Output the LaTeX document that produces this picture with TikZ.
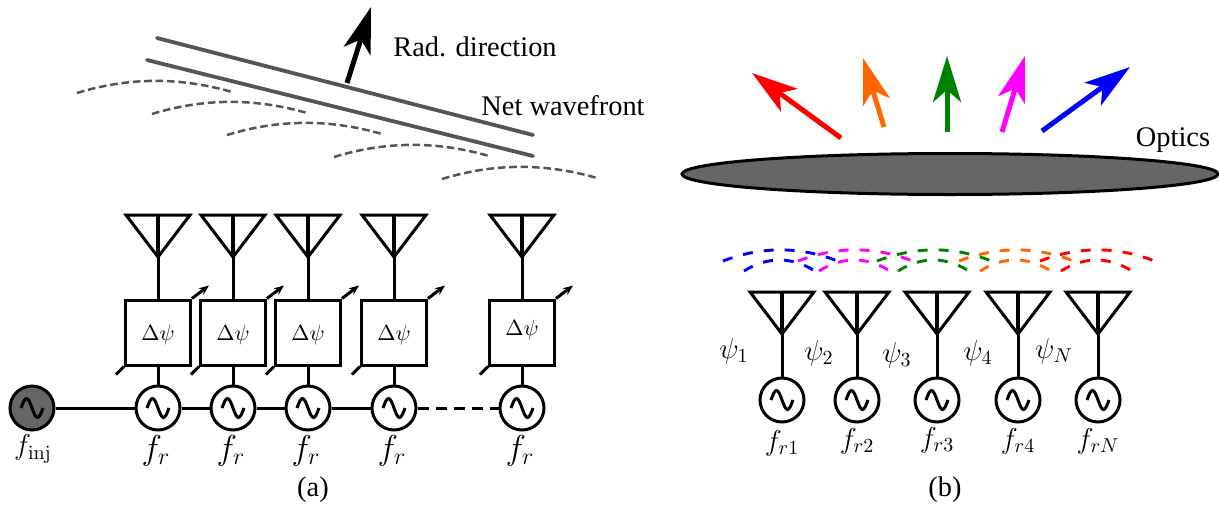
\documentclass[tikz,border=0pt]{standalone}
\usepackage[no-math]{fontspec}
\setmainfont{Liberation Serif}
\usetikzlibrary{arrows.meta,shapes.geometric}
\definecolor{wave}{RGB}{85,85,85}
\definecolor{lens}{RGB}{102,102,102}
\definecolor{tangerine}{RGB}{255,102,0}
\definecolor{forest}{RGB}{0,128,0}
\definecolor{fuchsia}{RGB}{255,0,255}
\tikzset{
  wire/.style={line width=1.5pt,draw=black},
  front/.style={line width=1.9pt,draw=wave,line cap=round},
  ripple/.style={line width=1.25pt,draw=wave,dash pattern=on 3.8pt off 1.9pt},
  beam/.style={line width=2.5pt,-{Stealth[length=23pt,width=14pt,inset=6pt]}},
  scan/.style={line width=1.45pt,draw=#1,dash pattern=on 5pt off 5.5pt},
  caption/.style={font=\fontsize{14.2}{17}\selectfont,inner sep=0pt},
  mathtag/.style={font=\fontsize{14.4}{17}\selectfont,inner sep=0pt},
  bigtag/.style={font=\fontsize{17.28}{20}\selectfont,inner sep=0pt},
  osc/.style={circle,wire,fill=#1,minimum size=22pt,inner sep=0pt,
    path picture={\draw[line width=1.5pt,shift={(path picture bounding box.center)}]
      plot[domain=-1:1,samples=25,smooth] (\x*11,{9.5*sin(\x*180)});}},
  osc/.default=white,
  phase/.style={rectangle,wire,minimum size=32.5pt,inner sep=0pt},
  pics/antenna/.style={code={
    \draw[wire] (-32,0) -- (32,0) -- (0,42) -- cycle;
    \draw[wire,line width=1.6pt] (0,0) -- (0,42);
    \coordinate (-feed) at (0,42);
  }},
}
\begin{document}
\begin{tikzpicture}[x=0.5pt,y=-0.5pt]
  \useasboundingbox (0,0) rectangle (1219,509);
  % (a) wavefront
  \coordinate (fronta1) at (157,38); \coordinate (fronta2) at (533,135);
  \coordinate (frontb1) at (147,60); \coordinate (frontb2) at (533,156);
  \draw[front] (fronta1) -- (fronta2);
  \draw[front] (frontb1) -- (frontb2);
  \foreach \x/\y in {77/80,152/101,227/122,334/144,442/166}
    \draw[ripple] (\x,\y+13) .. controls (\x+52,\y-3) and (\x+103,\y-3) .. (\x+155,\y+12);
  \coordinate (radtail) at (347,83); \coordinate (radtip) at (371,7);
  \draw[beam] (radtail) -- (radtip);
  \node[caption] (rad) at (475,47) {Rad. direction};
  \node[caption] (net) at (563,106) {Net wavefront};
  % (a) feed chain
  \node[osc=lens] (inj) at (32,408) {};
  \node[mathtag] (injlab) at (33,449) {$f_{\mathrm{inj}}$};
  \foreach \i/\x/\t in {1/158/335,2/233/335,3/308/335,4/394/335,5/522/330} {
    \pic (ant\i) at (\x,215) {antenna};
    \node[phase] (box\i) at (\x,332.5) {};
    \node[font=\fontsize{10.95}{13}\selectfont,inner sep=0pt] (dpsi\i) at (\x,\t) {$\Delta\psi$};
    \node[osc] (osc\i) at (\x,408) {};
    \node[bigtag] (fr\i) at (\x-2,451) {$f_r$};
    \draw[wire] (ant\i-feed) -- (box\i.north -| ant\i-feed);
    \draw[wire] (box\i.south -| osc\i) -- (osc\i);
    \draw[wire] (box\i.south west) -- +(-8,8);
    \draw[wire,-{Stealth[length=5pt,width=4pt]}] (box\i.north east) -- +(17,-13);
  }
  \draw[wire] (inj) -- (osc1);
  \draw[wire] (osc1) -- (osc2);
  \draw[wire] (osc2) -- (osc3);
  \draw[wire] (osc3) -- (osc4);
  \draw[wire,dash pattern=on 5.5pt off 3.5pt] (osc4) -- (osc5);
  \node[caption] (capa) at (313,490) {(a)};
  % (b) optics and beams
  \node[ellipse,wire,fill=lens,minimum width=268pt,minimum height=20.5pt,inner sep=0pt] (lens) at (950,174) {};
  \node[caption] (opt) at (1173,140) {Optics};
  \foreach \col/\xa/\ya/\xb/\yb/\n in {red/841/138/752/73/1,tangerine/884/127/863/58/2,forest/947/132/947/56/3,fuchsia/1002/132/1025/56/4,blue/1042/131/1130/67/5} {
    \coordinate (tail\n) at (\xa,\ya);
    \coordinate (tip\n) at (\xb,\yb);
    \draw[beam,\col] (tail\n) -- (tip\n);
  }
  % (b) scanned arcs
  \foreach \col/\x in {blue/723,fuchsia/798,forest/877,tangerine/959,red/1040} {
    \draw[scan=\col] (\x,261) .. controls (\x+39,246) and (\x+78,246) .. (\x+117,262);
    \draw[scan=\col] (\x+21,271) .. controls (\x+45,256) and (\x+70,256) .. (\x+95,273);
  }
  % (b) array
  \foreach \i/\x/\p/\q/\sub/\fy in {1/782/734/351/1/443,2/857/819/353/2/441,3/937/897/355/3/440,4/1018/978/353/4/441,N/1098/1054/351/N/441} {
    \pic (elem\i) at (\x,292) {antenna};
    \node[osc] (src\i) at (\x,400) {};
    \node[mathtag] (fb\i) at (\x,\fy) {$f_{r\sub}$};
    \node[mathtag] (psi\i) at (\p,\q) {$\psi_\sub$};
    \draw[wire] (elem\i-feed) -- (src\i);
  }
  \node[caption] (capb) at (945,490) {(b)};
\end{tikzpicture}
\end{document}
